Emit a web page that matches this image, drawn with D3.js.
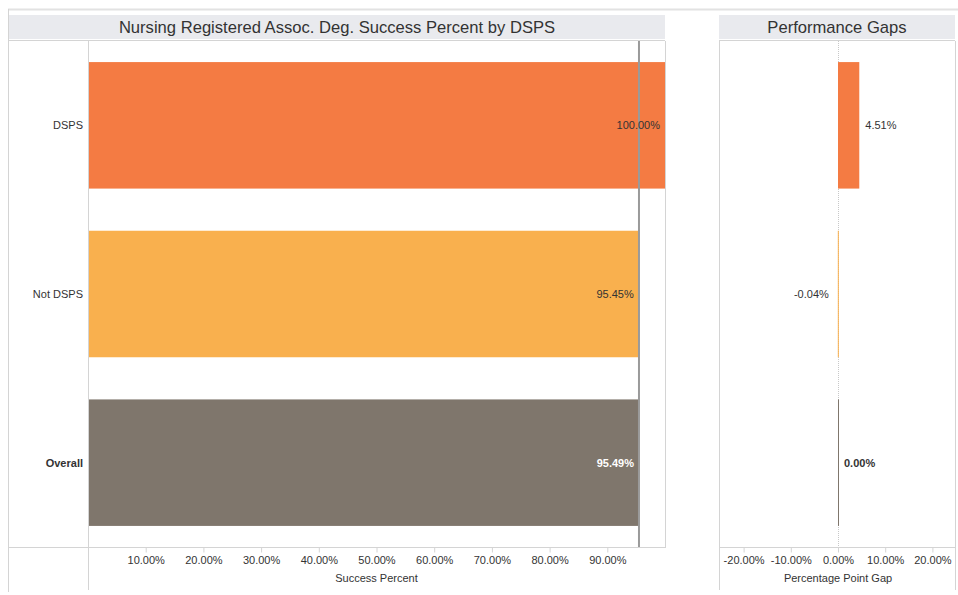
<!DOCTYPE html>
<html>
<head>
<meta charset="utf-8">
<script src="https://cdn.jsdelivr.net/npm/d3@7"></script>
<style>
  html, body { margin: 0; padding: 0; background: #fff; }
  svg { display: block; font-family: "Liberation Sans", Arial, sans-serif; }
</style>
</head>
<body>
<svg id="chart" width="958" height="595"></svg>
<script>
// Groups and values
const categories = ["DSPS", "Not DSPS", "Overall"];
const successPercent = [1.0000, 0.9545, 0.9549];
const gapValues = [0.0451, -0.0004, 0.0000];
const barColors = ["#f47b43", "#f9b04e", "#7f766c"];
const successTicks = [0.1, 0.2, 0.3, 0.4, 0.5, 0.6, 0.7, 0.8, 0.9];
const gapTicks = [-0.2, -0.1, 0, 0.1, 0.2];

(function () {
const svg = d3.select("#chart");
// Percent with two decimals and a plain hyphen for negatives
const pct = d3.formatLocale({ decimal: ".", thousands: ",", grouping: [3], currency: ["$", ""], minus: "-" }).format(".2%");
const lineCol = "#d4d4d4";

const plotTop = 41, plotBottom = 547;
const left = { x0: 88, x1: 665 };
const right = { x0: 719, x1: 955 };

// Outer frame
svg.append("line").attr("x1", 8).attr("x2", 958).attr("y1", 9.5).attr("y2", 9.5)
  .attr("stroke", "#e2e2e2").attr("stroke-width", 2);
svg.append("line").attr("x1", 8.5).attr("x2", 8.5).attr("y1", 9).attr("y2", 592)
  .attr("stroke", lineCol);

// Title bands
svg.append("rect").attr("x", 9).attr("y", 15).attr("width", left.x1 - 9).attr("height", 24).attr("fill", "#e9eaee");
svg.append("text").attr("x", (9 + left.x1) / 2).attr("y", 33).attr("text-anchor", "middle")
  .attr("font-size", 16.6).attr("fill", "#333")
  .text("Nursing Registered Assoc. Deg. Success Percent by DSPS");
svg.append("rect").attr("x", right.x0).attr("y", 15).attr("width", right.x1 - right.x0).attr("height", 24).attr("fill", "#e9eaee");
svg.append("text").attr("x", (right.x0 + right.x1) / 2).attr("y", 33).attr("text-anchor", "middle")
  .attr("font-size", 16.6).attr("fill", "#333").text("Performance Gaps");

// Scales
const y = d3.scaleBand().domain(categories).range([plotTop, plotBottom]).paddingInner(0.25).paddingOuter(0.125);
const x = d3.scaleLinear().domain([0, 1]).range([left.x0, left.x1]);
const xg = d3.scaleLinear().domain([-0.25, 0.25]).range([720, 956]);

// Panel borders
const borders = [
  [left.x0 + 0.5, plotTop, left.x0 + 0.5, 590],
  [left.x1 + 0.5, plotTop, left.x1 + 0.5, plotBottom],
  [8, plotTop - 0.5, left.x1, plotTop - 0.5],
  [right.x0 + 0.5, plotTop, right.x0 + 0.5, 590],
  [right.x1 + 0.5, plotTop, right.x1 + 0.5, 590],
  [right.x0, plotTop - 0.5, right.x1, plotTop - 0.5],
  [8, plotBottom + 0.5, left.x1 + 1, plotBottom + 0.5],
  [right.x0, plotBottom + 0.5, right.x1 + 1, plotBottom + 0.5]
];
svg.append("g").selectAll("line").data(borders).join("line")
  .attr("x1", d => d[0]).attr("y1", d => d[1]).attr("x2", d => d[2]).attr("y2", d => d[3])
  .attr("stroke", lineCol);

// Success bars
svg.append("g").selectAll("rect").data(categories).join("rect")
  .attr("x", x(0) + 1).attr("y", d => y(d))
  .attr("width", (d, i) => x(successPercent[i]) - x(0) - 1)
  .attr("height", y.bandwidth())
  .attr("fill", (d, i) => barColors[i]);

// Reference line at Overall value
svg.append("line").attr("x1", x(successPercent[2])).attr("x2", x(successPercent[2]))
  .attr("y1", plotTop).attr("y2", plotBottom).attr("stroke", "#9a9a9a").attr("stroke-width", 2);

// Category labels
svg.append("g").selectAll("text").data(categories).join("text")
  .attr("x", 83).attr("y", d => y(d) + y.bandwidth() / 2 + 4)
  .attr("text-anchor", "end").attr("font-size", 11)
  .attr("font-weight", d => d === "Overall" ? "bold" : "normal")
  .attr("fill", "#333").text(d => d);

// Success value labels
svg.append("g").selectAll("text").data(categories).join("text")
  .attr("x", (d, i) => x(successPercent[i]) - 5)
  .attr("y", d => y(d) + y.bandwidth() / 2 + 4)
  .attr("text-anchor", "end").attr("font-size", 11)
  .attr("font-weight", d => d === "Overall" ? "bold" : "normal")
  .attr("fill", d => d === "Overall" ? "#fff" : "#333")
  .text((d, i) => pct(successPercent[i]));

// Success axis
const axL = svg.append("g").attr("transform", `translate(0,${plotBottom + 0.5})`)
  .call(d3.axisBottom(x).tickValues(successTicks).tickFormat(pct).tickSize(5).tickPadding(4));
axL.select(".domain").remove();
axL.selectAll(".tick line").attr("stroke", lineCol);
axL.selectAll(".tick text").attr("font-size", 11).attr("fill", "#333").attr("font-family", "Liberation Sans, Arial, sans-serif");
svg.append("text").attr("x", x(0.5)).attr("y", 582).attr("text-anchor", "middle")
  .attr("font-size", 11).attr("fill", "#333").text("Success Percent");

// Gap zero line
svg.append("line").attr("x1", xg(0) + 0.5).attr("x2", xg(0) + 0.5).attr("y1", plotTop).attr("y2", plotBottom)
  .attr("stroke", "#c8c8c8").attr("stroke-dasharray", "1,1");

// Gap bars
svg.append("g").selectAll("rect").data(categories).join("rect")
  .attr("x", (d, i) => Math.min(xg(0), xg(gapValues[i])))
  .attr("y", d => y(d))
  .attr("width", (d, i) => Math.max(1, Math.abs(xg(gapValues[i]) - xg(0))))
  .attr("height", y.bandwidth())
  .attr("fill", (d, i) => barColors[i]);

// Gap value labels
svg.append("g").selectAll("text").data(categories).join("text")
  .attr("x", (d, i) => gapValues[i] < 0 ? xg(gapValues[i]) - 9 : xg(gapValues[i]) + 6)
  .attr("y", d => y(d) + y.bandwidth() / 2 + 4)
  .attr("text-anchor", (d, i) => gapValues[i] < 0 ? "end" : "start")
  .attr("font-size", 11)
  .attr("font-weight", d => d === "Overall" ? "bold" : "normal")
  .attr("fill", "#333")
  .text((d, i) => pct(gapValues[i]));

// Gap axis
const axR = svg.append("g").attr("transform", `translate(0,${plotBottom + 0.5})`)
  .call(d3.axisBottom(xg).tickValues(gapTicks).tickFormat(pct).tickSize(5).tickPadding(4));
axR.select(".domain").remove();
axR.selectAll(".tick line").attr("stroke", lineCol);
axR.selectAll(".tick text").attr("font-size", 11).attr("fill", "#333").attr("font-family", "Liberation Sans, Arial, sans-serif");
svg.append("text").attr("x", xg(0)).attr("y", 582).attr("text-anchor", "middle")
  .attr("font-size", 11).attr("fill", "#333").text("Percentage Point Gap");
})();
</script>
</body>
</html>
